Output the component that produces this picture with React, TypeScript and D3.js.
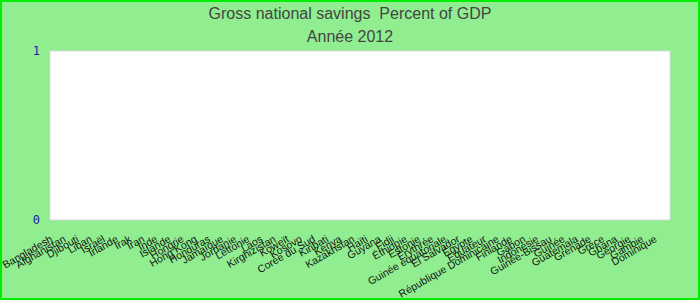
import React from "react";
import * as d3 from "d3";

const TITLE = "Gross national savings\u00a0 Percent of GDP";
const SUBTITLE = "Année 2012";

const categories: string[] = [
  "Bangladesh", "Afghanistan", "Djibouti", "Liban", "Israël", "Irlande", "Irak", "Iran",
  "Inde", "Islande", "Hongrie", "Hong Kong", "Honduras", "Jamaïque", "Jordanie", "Lettonie",
  "Laos", "Kirghizistan", "Koweït", "Kosovo", "Corée du Sud", "Kiribati", "Kenya", "Kazakhstan",
  "Haïti", "Guyana", "Fidji", "Éthiopie", "Estonie", "Érythrée", "Guinée équatoriale",
  "El Salvador", "Égypte", "Équateur", "République Dominicaine", "Finlande", "Gabon",
  "Indonésie", "Guinée-Bissau", "Guinée", "Guatemala", "Grenade", "Grèce", "Ghana",
  "Géorgie", "Gambie", "Dominique",
];

// No values are shown in the reference (empty series)
const values: (number | null)[] = categories.map(() => null);

const yTicks: number[] = [0, 1];

export default function App() {
  const W = 700;
  const H = 300;
  const m = { left: 50, right: 30, top: 51, bottom: 80 };
  const x = d3
    .scaleBand<string>()
    .domain(categories)
    .range([m.left, W - m.right])
    .padding(0.2);
  const y = d3.scaleLinear().domain([0, 1]).range([H - m.bottom, m.top]);
  const step = x.step();

  return (
    <svg
      width={W}
      height={H}
      style={{ position: "absolute", left: 0, top: 0 }}
      fontFamily="'Liberation Sans', Arial, sans-serif"
    >
      <rect x={1} y={1} width={W - 2} height={H - 2} fill="#90ee90" stroke="#00ee00" strokeWidth={2} />
      <text x={W / 2} y={19} textAnchor="middle" fontSize={16} fill="#444">
        {TITLE}
      </text>
      <text x={W / 2} y={42} textAnchor="middle" fontSize={16} fill="#444">
        {SUBTITLE}
      </text>
      <rect
        x={m.left}
        y={m.top}
        width={W - m.left - m.right}
        height={H - m.top - m.bottom}
        fill="#fff"
        stroke="#d8d8d8"
        strokeWidth={1}
      />
      {values.map((v, i) =>
        v == null ? null : (
          <rect
            key={i}
            x={x(categories[i])}
            y={y(v)}
            width={x.bandwidth()}
            height={y(0) - y(v)}
            fill="#4f81bd"
          />
        )
      )}
      {yTicks.map((t) => (
        <text
          key={t}
          x={40}
          y={y(t)}
          dy="0.35em"
          textAnchor="end"
          fontSize={12}
          fontFamily="'DejaVu Sans Mono', monospace"
          fill="#1a1aa8"
        >
          {t}
        </text>
      ))}
      {categories.map((c) => {
        const cx = (x(c) as number) + x.bandwidth() / 2 - step / 2 + 2;
        const cy = H - m.bottom + 21;
        return (
          <text
            key={c}
            transform={`translate(${cx},${cy}) rotate(-30)`}
            textAnchor="end"
            fontSize={10.5}
            fill="#111"
          >
            {c}
          </text>
        );
      })}
    </svg>
  );
}
